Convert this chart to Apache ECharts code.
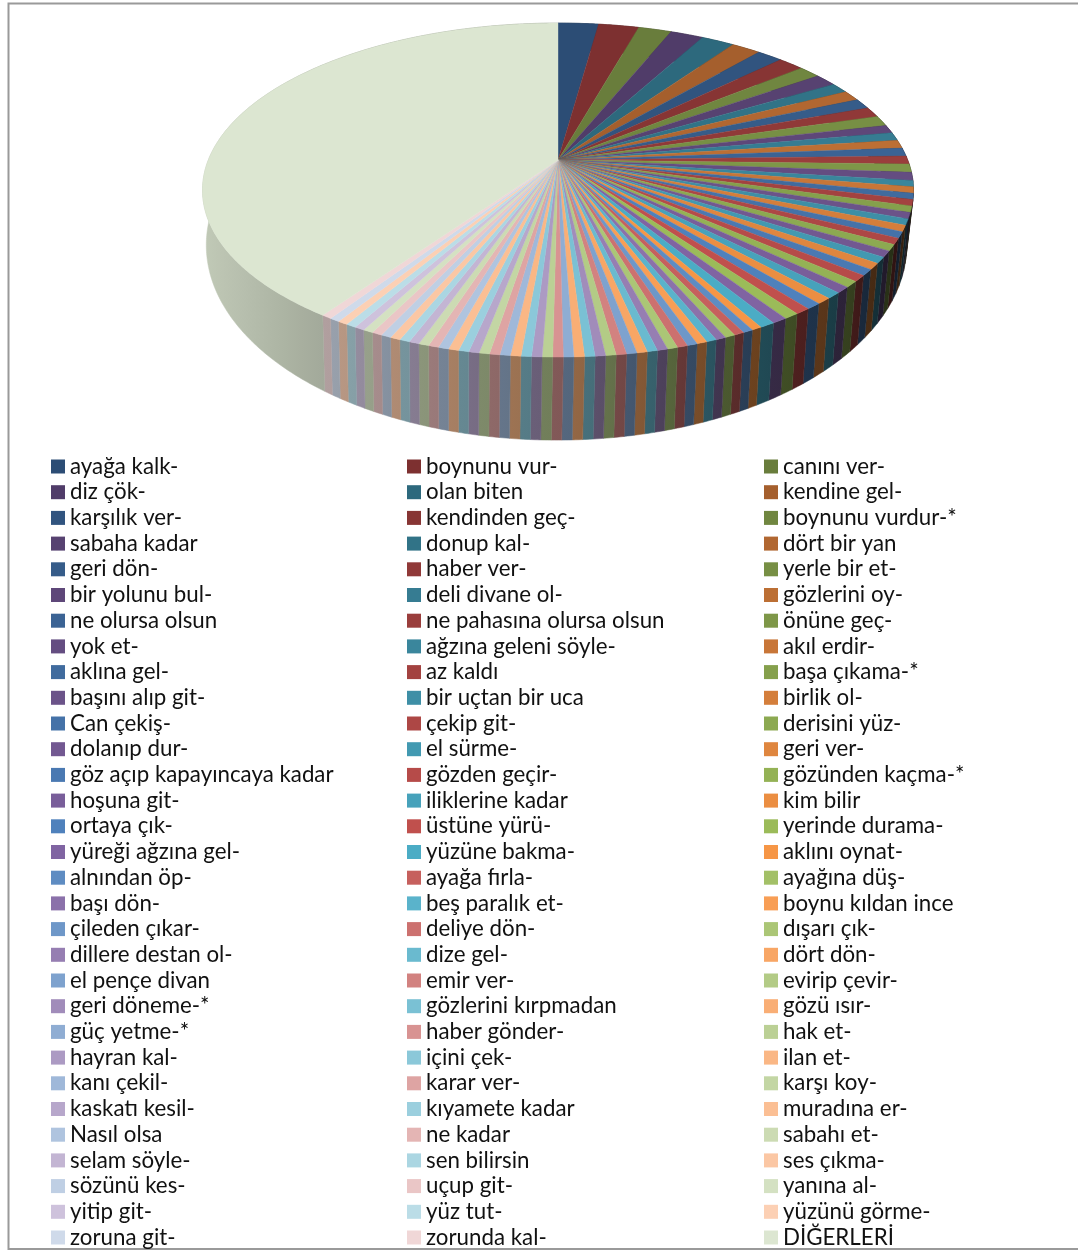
<!DOCTYPE html>
<html><head><meta charset="utf-8">
<style>html,body{margin:0;padding:0;background:#fff}#c{width:1078px;height:1250px}</style>
<script src="https://cdn.jsdelivr.net/npm/echarts@6/dist/echarts.min.js"></script>
</head><body><div id="c"></div>
<script>
const col1 = ['ayağa kalk-','diz çök-','karşılık ver-','sabaha kadar','geri dön-','bir yolunu bul-','ne olursa olsun','yok et-','aklına gel-','başını alıp git-','Can çekiş-','dolanıp dur-','göz açıp kapayıncaya kadar','hoşuna git-','ortaya çık-','yüreği ağzına gel-','alnından öp-','başı dön-','çileden çıkar-','dillere destan ol-','el pençe divan','geri döneme-*','güç yetme-*','hayran kal-','kanı çekil-','kaskatı kesil-','Nasıl olsa','selam söyle-','sözünü kes-','yitip git-','zoruna git-'];
const col2 = ['boynunu vur-','olan biten','kendinden geç-','donup kal-','haber ver-','deli divane ol-','ne pahasına olursa olsun','ağzına geleni söyle-','az kaldı','bir uçtan bir uca','çekip git-','el sürme-','gözden geçir-','iliklerine kadar','üstüne yürü-','yüzüne bakma-','ayağa fırla-','beş paralık et-','deliye dön-','dize gel-','emir ver-','gözlerini kırpmadan','haber gönder-','içini çek-','karar ver-','kıyamete kadar','ne kadar','sen bilirsin','uçup git-','yüz tut-','zorunda kal-'];
const col3 = ['canını ver-','kendine gel-','boynunu vurdur-*','dört bir yan','yerle bir et-','gözlerini oy-','önüne geç-','akıl erdir-','başa çıkama-*','birlik ol-','derisini yüz-','geri ver-','gözünden kaçma-*','kim bilir','yerinde durama-','aklını oynat-','ayağına düş-','boynu kıldan ince','dışarı çık-','dört dön-','evirip çevir-','gözü ısır-','hak et-','ilan et-','karşı koy-','muradına er-','sabahı et-','ses çıkma-','yanına al-','yüzünü görme-','DİĞERLERİ'];
// values in slice order (column 1, 2, 3 of each legend row)
const values = [
 11,11,9, 9,9,8, 7,7,6, 6,5,5, 5,5,5, 4,4,4, 4,4,4, 4,3,3, 3,3,3, 3,3,3, 3,3,3,
 3,3,3, 3,3,3, 3,3,3, 3,3,3, 3,3,2, 2,2,2, 2,2,2, 2,2,2, 2,2,2, 2,2,2, 2,2,2,
 2,2,2, 2,2,2, 2,2,2, 2,2,2, 2,2,2, 2,2,2, 2,2,2, 2,2,2, 2,2,203];
const baseColors  = [[79,129,189],[192,80,77],[155,187,89],[128,100,162],[75,172,198],[247,150,70]];
const shadeColors = [[44,77,117],[125,48,48],[105,125,60],[80,60,105],[45,105,125],[165,95,45]];
const tintColors  = [[207,218,234],[240,215,215],[220,230,209],[217,208,228],[203,228,236],[253,216,196]];

const names = [];
col1.forEach((n,i)=>names.push(n,col2[i],col3[i]));
const total = values.reduce((a,b)=>a+b,0);
const ang = [0];
values.forEach(v=>ang.push(ang[ang.length-1]+v/total*2*Math.PI));

function mix(a,b,t){return a.map((v,k)=>v+(b[k]-v)*t);}
function sliceColor(i){
  const j=i%6, t=Math.floor(i/6)/15;
  return t<0.47 ? mix(shadeColors[j],baseColors[j],t/0.47) : mix(baseColors[j],tintColors[j],(t-0.47)/0.53);
}
const css = (rgb,f=1)=>'rgb('+rgb.map(v=>Math.round(v*f)).join(',')+')';

// projected disc: top face and bottom face
const P = -0.18;
const topFace = {x0:558,y0:160,A:349.7,K:161.6};
const botFace = {x0:556.5,y0:210,A:344.5,K:188.7};
function proj(f,th){
  const u=Math.sin(th), v=-Math.cos(th), w=1+P*v;
  return [f.x0+f.A*u/w, f.y0+f.K*v/w];
}
function arc(f,a,b){
  const n=Math.max(2,Math.ceil((b-a)/0.01)), pts=[];
  for(let k=0;k<=n;k++) pts.push(proj(f,a+(b-a)*k/n));
  return pts;
}
// wall shade by screen x
const shadeStops=[[200,0.88],[320,0.74],[558,0.60],[700,0.48],[850,0.36],[914,0.24]];
function shade(x){
  for(let i=1;i<shadeStops.length;i++){
    const a=shadeStops[i-1],b=shadeStops[i];
    if(x<=b[0]) return a[1]+(b[1]-a[1])*Math.max(0,(x-a[0]))/(b[0]-a[0]);
  }
  return 0.24;
}
function renderWall(params,api){
  const i=api.value(0), a=ang[i], b=ang[i+1];
  const top=arc(topFace,a,b), bot=arc(botFace,a,b).reverse();
  const pts=top.concat(bot), rgb=sliceColor(i);
  const xs=pts.map(p=>p[0]), x1=Math.min(...xs), x2=Math.max(...xs);
  const stops=[];
  const N=Math.max(1,Math.ceil((x2-x1)/20));
  for(let k=0;k<=N;k++){const x=x1+(x2-x1)*k/N;stops.push({offset:k/N,color:css(rgb,shade(x))});}
  const fill={type:'linear',x:x1,y:0,x2:x2+0.01,y2:0,global:true,colorStops:stops};
  return {type:'polygon',shape:{points:pts},style:{fill:fill,stroke:fill,lineWidth:0.5}};
}
function renderTop(params,api){
  const i=api.value(0);
  const pts=[[topFace.x0,topFace.y0]].concat(arc(topFace,ang[i],ang[i+1]));
  const c=css(sliceColor(i));
  return {type:'polygon',shape:{points:pts},style:{fill:c,stroke:c,lineWidth:0.4}};
}
const series=[{type:'custom',coordinateSystem:'none',silent:true,animation:false,
  data:values.map((v,i)=>[i,v]),renderItem:renderWall,encode:{value:[0,1]}}];
names.forEach((n,i)=>series.push({type:'custom',name:n,coordinateSystem:'none',animation:false,
  itemStyle:{color:css(sliceColor(i))},data:[[i,values[i]]],renderItem:renderTop,encode:{value:[0,1]}}));

function legend(left,data){
  return {show:true,orient:'vertical',left:left,top:455.5,height:830,width:340,padding:0,itemGap:3.7,itemWidth:14,itemHeight:14,
    icon:'rect',selectedMode:false,data:data,
    textStyle:{fontFamily:'Lato',fontSize:22.3,color:'#111',lineHeight:20}};
}
const chart=echarts.init(document.getElementById('c'),null,{renderer:'canvas'});
chart.setOption({animation:false,backgroundColor:'#fff',
  legend:[legend(51,col1),legend(407,col2),legend(764,col3)],
  graphic:[{type:'rect',shape:{x:8.5,y:3.5,width:1200,height:1245.5},style:{fill:'none',stroke:'#9a9a9a',lineWidth:2},silent:true,z:-1}],
  series:series});
</script></body></html>
